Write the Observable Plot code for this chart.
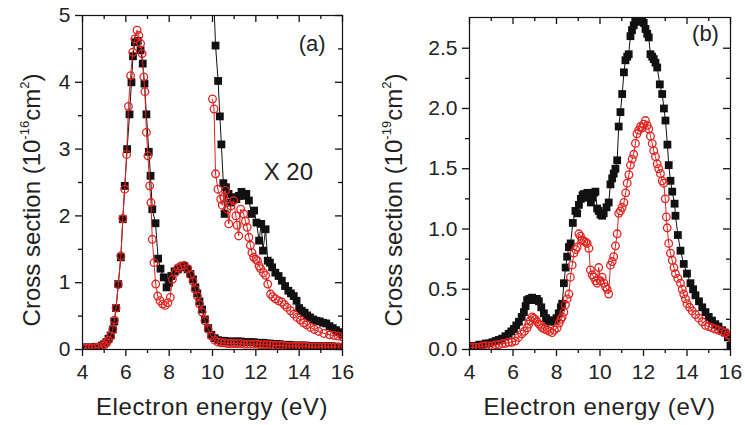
<!DOCTYPE html>
<html>
<head>
<meta charset="utf-8">
<script src="https://cdn.jsdelivr.net/npm/d3@7"></script>
<script src="https://cdn.jsdelivr.net/npm/@observablehq/plot@0.6"></script>
<style>
  body { margin: 0; background: #fff; }
  #chart { display: flex; width: 745px; height: 425px; }
  svg text { font-family: "Liberation Sans", Arial, Helvetica, sans-serif; }
</style>
</head>
<body>
<div id="chart"></div>
<script>
// Energy axis ticks (eV)
const xMajor = [4, 6, 8, 10, 12, 14, 16];
const xMinor = [5, 7, 9, 11, 13, 15];

// Panel (a): cross section in 1e-16 cm^2
const aYMajor = [0, 1, 2, 3, 4, 5];
const aYMinor = [0.5, 1.5, 2.5, 3.5, 4.5];

// [energy, cross section] — filled squares
const aBlack = [
  [4.0,0.03],[4.15,0.03],[4.3,0.03],[4.45,0.03],[4.6,0.04],[4.75,0.04],[4.9,0.06],[5.0,0.08],[5.1,0.11],[5.2,0.16],
  [5.3,0.21],[5.4,0.3],[5.47,0.42],[5.55,0.62],[5.65,0.98],[5.77,1.38],[5.86,1.95],[5.95,2.45],[6.06,3.0],[6.17,3.52],
  [6.26,4.0],[6.33,4.39],[6.42,4.6],[6.55,4.62],[6.68,4.48],[6.78,4.28],[6.86,3.98],[6.95,3.52],[7.06,2.96],[7.14,2.6],
  [7.22,2.1],[7.37,1.89],[7.49,1.36],[7.6,1.21],[7.75,1.08],[7.88,0.93],[8.0,1.0],[8.1,1.1],[8.25,1.17],[8.4,1.2],
  [8.55,1.23],[8.7,1.25],[8.85,1.2],[8.98,1.13],[9.1,1.05],[9.21,0.93],[9.3,0.84],[9.4,0.72],[9.52,0.6],[9.65,0.45],
  [9.8,0.32],[9.95,0.22],[10.1,0.17],[10.25,0.14],[10.4,0.13],[10.55,0.13],[10.7,0.12],[10.85,0.12],[11.0,0.12],[11.15,0.12],
  [11.3,0.12],[11.45,0.11],[11.6,0.11],[11.75,0.11],[11.9,0.11],[12.05,0.1],[12.2,0.1],[12.35,0.1],[12.5,0.09],[12.65,0.09],
  [12.8,0.08],[12.95,0.08],[13.1,0.08],[13.25,0.07],[13.4,0.07],[13.55,0.07],[13.7,0.06],[13.85,0.06],[14.0,0.06],[14.15,0.06],
  [14.3,0.06],[14.45,0.05],[14.6,0.05],[14.75,0.05],[14.9,0.05],[15.05,0.05],[15.2,0.05],[15.35,0.05],[15.5,0.05],[15.65,0.04],
  [15.8,0.04],[16.0,0.04]
];
// [energy, cross section] — open circles
const aRed = [
  [4.0,0.02],[4.15,0.02],[4.3,0.02],[4.45,0.02],[4.6,0.03],[4.75,0.03],[4.9,0.05],[5.0,0.07],[5.1,0.1],[5.2,0.14],
  [5.3,0.2],[5.4,0.3],[5.47,0.44],[5.55,0.62],[5.65,0.97],[5.77,1.4],[5.86,1.96],[5.95,2.4],[6.04,2.92],[6.12,3.64],
  [6.22,4.1],[6.32,4.45],[6.42,4.65],[6.52,4.78],[6.6,4.7],[6.68,4.58],[6.75,4.43],[6.83,4.08],[6.88,3.86],[6.95,3.25],
  [7.02,2.9],[7.1,2.45],[7.16,2.2],[7.22,1.65],[7.3,1.3],[7.38,0.98],[7.47,0.8],[7.58,0.73],[7.7,0.68],[7.82,0.66],
  [7.94,0.7],[8.05,0.78],[8.15,1.05],[8.28,1.15],[8.4,1.22],[8.55,1.25],[8.7,1.26],[8.85,1.21],[8.98,1.12],[9.1,1.02],
  [9.2,0.9],[9.3,0.8],[9.4,0.68],[9.52,0.56],[9.65,0.43],[9.8,0.3],[9.95,0.2],[10.1,0.14],[10.25,0.11],[10.4,0.1],
  [10.55,0.1],[10.7,0.09],[10.85,0.09],[11.0,0.09],[11.15,0.09],[11.3,0.09],[11.45,0.08],[11.6,0.08],[11.75,0.08],[11.9,0.08],
  [12.05,0.08],[12.2,0.07],[12.35,0.07],[12.5,0.07],[12.65,0.07],[12.8,0.06],[12.95,0.06],[13.1,0.06],[13.25,0.06],[13.4,0.05],
  [13.55,0.05],[13.7,0.05],[13.85,0.05],[14.0,0.05],[14.15,0.05],[14.3,0.05],[14.45,0.04],[14.6,0.04],[14.75,0.04],[14.9,0.04],
  [15.05,0.04],[15.2,0.04],[15.35,0.04],[15.5,0.04],[15.65,0.04],[15.8,0.04],[16.0,0.04]
];
// High-energy part magnified twenty times ("X 20")
const aBlackX20 = [
  [10.02,5.6],[10.14,4.55],[10.26,4.02],[10.34,3.49],[10.41,3.07],[10.5,2.49],[10.56,2.03],[10.62,2.43],[10.74,2.33],[10.86,2.2],
  [10.98,2.28],[11.1,2.25],[11.22,2.3],[11.34,2.36],[11.45,2.3],[11.56,2.33],[11.68,2.23],[11.8,2.03],[11.92,2.08],[12.03,1.9],
  [12.15,1.63],[12.25,1.88],[12.33,1.48],[12.45,1.8],[12.55,1.33],[12.65,1.3],[12.75,1.23],[12.9,1.15],[13.05,1.1],[13.2,1.03],
  [13.35,0.95],[13.5,0.88],[13.62,0.84],[13.75,0.8],[13.88,0.73],[14.0,0.62],[14.12,0.58],[14.25,0.55],[14.37,0.51],[14.5,0.48],
  [14.65,0.45],[14.8,0.43],[14.95,0.42],[15.1,0.4],[15.25,0.39],[15.4,0.35],[15.55,0.32],[15.7,0.29],[15.85,0.26],[16.0,0.22]
];
const aRedX20 = [
  [10.0,3.75],[10.07,3.6],[10.14,2.63],[10.25,2.4],[10.38,2.25],[10.45,2.16],[10.52,2.28],[10.6,2.38],[10.68,2.1],[10.75,1.88],
  [10.85,2.15],[10.98,2.23],[11.08,2.0],[11.14,1.86],[11.21,1.7],[11.3,2.1],[11.44,2.03],[11.52,1.92],[11.6,1.83],[11.68,1.68],
  [11.75,1.56],[11.82,1.45],[11.9,1.38],[12.0,1.35],[12.07,1.33],[12.15,1.25],[12.22,1.21],[12.35,1.15],[12.45,1.11],[12.55,0.98],
  [12.68,0.83],[12.78,0.79],[12.9,0.76],[13.05,0.73],[13.2,0.71],[13.32,0.67],[13.44,0.63],[13.6,0.58],[13.75,0.53],[13.9,0.48],
  [14.06,0.44],[14.2,0.4],[14.35,0.37],[14.52,0.33],[14.7,0.3],[14.9,0.27],[15.14,0.24],[15.4,0.22],[15.6,0.21],[15.8,0.2],[16.0,0.19]
];

// Panel (b): cross section in 1e-19 cm^2
const bYMajor = [0, 0.5, 1.0, 1.5, 2.0, 2.5];
const bYMinor = [0.25, 0.75, 1.25, 1.75, 2.25];

const bBlack = [
  [4.0,0.03],[4.15,0.03],[4.3,0.03],[4.45,0.04],[4.6,0.04],[4.75,0.05],[4.9,0.05],[5.05,0.06],[5.2,0.07],[5.35,0.08],
  [5.5,0.09],[5.65,0.11],[5.8,0.13],[5.92,0.15],[6.04,0.17],[6.15,0.2],[6.27,0.23],[6.4,0.27],[6.5,0.31],[6.58,0.36],
  [6.65,0.41],[6.75,0.42],[6.88,0.43],[7.0,0.41],[7.1,0.42],[7.19,0.4],[7.3,0.35],[7.42,0.3],[7.52,0.26],[7.62,0.24],
  [7.72,0.23],[7.8,0.24],[7.88,0.24],[8.0,0.26],[8.1,0.3],[8.2,0.35],[8.26,0.38],[8.34,0.55],[8.42,0.68],[8.49,0.77],
  [8.57,0.85],[8.65,0.88],[8.75,1.05],[8.87,1.15],[8.95,1.13],[9.03,1.2],[9.12,1.25],[9.2,1.28],[9.26,1.29],[9.35,1.26],
  [9.42,1.3],[9.49,1.28],[9.58,1.22],[9.65,1.26],[9.72,1.3],[9.79,1.31],[9.87,1.17],[9.94,1.15],[10.02,1.12],[10.1,1.11],
  [10.17,1.13],[10.3,1.18],[10.4,1.22],[10.48,1.37],[10.56,1.42],[10.63,1.46],[10.71,1.5],[10.79,1.57],[10.86,1.85],[10.94,1.97],
  [11.02,2.12],[11.1,2.3],[11.17,2.4],[11.25,2.43],[11.32,2.45],[11.4,2.6],[11.47,2.65],[11.55,2.69],[11.62,2.72],[11.7,2.73],
  [11.78,2.72],[11.86,2.74],[11.94,2.73],[12.01,2.71],[12.09,2.66],[12.17,2.62],[12.24,2.59],[12.32,2.45],[12.4,2.43],[12.47,2.41],
  [12.55,2.38],[12.63,2.34],[12.75,2.2],[12.86,2.12],[12.94,2.0],[13.01,1.9],[13.1,1.7],[13.16,1.53],[13.24,1.4],[13.32,1.31],
  [13.43,1.21],[13.47,1.11],[13.58,0.95],[13.7,0.82],[13.85,0.71],[14.0,0.63],[14.16,0.55],[14.28,0.5],[14.39,0.45],[14.55,0.4],
  [14.7,0.35],[14.85,0.31],[15.0,0.27],[15.15,0.24],[15.3,0.21],[15.45,0.19],[15.62,0.16],[15.75,0.14],[15.88,0.1],[16.0,0.03]
];
const bRed = [
  [4.0,0.02],[4.15,0.02],[4.3,0.02],[4.45,0.02],[4.6,0.03],[4.75,0.03],[4.9,0.03],[5.05,0.03],[5.2,0.04],[5.35,0.04],
  [5.5,0.05],[5.65,0.05],[5.8,0.06],[5.95,0.06],[6.11,0.07],[6.25,0.1],[6.4,0.13],[6.52,0.15],[6.65,0.18],[6.72,0.21],
  [6.8,0.24],[6.88,0.27],[6.95,0.26],[7.03,0.25],[7.11,0.23],[7.2,0.21],[7.27,0.2],[7.34,0.18],[7.45,0.17],[7.57,0.16],
  [7.68,0.15],[7.8,0.14],[7.9,0.16],[8.03,0.18],[8.12,0.22],[8.2,0.25],[8.26,0.27],[8.34,0.31],[8.41,0.37],[8.49,0.42],
  [8.57,0.46],[8.64,0.6],[8.72,0.7],[8.8,0.8],[8.88,0.83],[8.95,0.85],[9.03,0.96],[9.1,0.94],[9.18,0.91],[9.26,0.9],
  [9.34,0.89],[9.41,0.88],[9.49,0.84],[9.56,0.66],[9.64,0.62],[9.72,0.6],[9.8,0.57],[9.87,0.55],[9.94,0.68],[10.02,0.57],
  [10.1,0.6],[10.18,0.55],[10.25,0.52],[10.33,0.5],[10.4,0.46],[10.48,0.7],[10.56,0.73],[10.63,0.77],[10.71,0.86],[10.79,0.96],
  [10.86,1.13],[10.94,1.15],[11.02,1.18],[11.1,1.22],[11.18,1.3],[11.25,1.38],[11.33,1.45],[11.4,1.53],[11.48,1.58],[11.55,1.62],
  [11.63,1.71],[11.7,1.79],[11.78,1.82],[11.86,1.85],[11.94,1.84],[12.01,1.87],[12.09,1.9],[12.17,1.86],[12.24,1.83],[12.32,1.77],
  [12.4,1.71],[12.47,1.65],[12.55,1.6],[12.63,1.54],[12.7,1.5],[12.78,1.46],[12.86,1.4],[12.93,1.38],[13.0,1.25],[13.05,1.1],
  [13.09,1.01],[13.16,0.88],[13.24,0.8],[13.32,0.74],[13.4,0.68],[13.47,0.63],[13.58,0.59],[13.7,0.55],[13.78,0.5],[13.85,0.46],
  [13.93,0.42],[14.0,0.38],[14.12,0.35],[14.24,0.32],[14.39,0.29],[14.54,0.26],[14.7,0.23],[14.85,0.2],[15.0,0.19],[15.15,0.18],
  [15.3,0.17],[15.45,0.16],[15.6,0.15],[15.77,0.14],[15.9,0.12],[16.0,0.11]
];

const xTitle = "Electron energy (eV)";
const INK = "#222";
const RED = "#e3221e";
const HEIGHT = 425;

function squares(data) {
  return [
    Plot.line(data, {x: d => d[0], y: d => d[1], stroke: "#111", strokeWidth: 1, clip: true}),
    Plot.dot(data, {x: d => d[0], y: d => d[1], symbol: "square", r: 4.4, fill: "#111", stroke: "none", clip: true})
  ];
}
function circles(data) {
  return [
    Plot.line(data, {x: d => d[0], y: d => d[1], stroke: RED, strokeWidth: 1, clip: true}),
    Plot.dot(data, {x: d => d[0], y: d => d[1], r: 3.8, fill: "none", stroke: RED, strokeWidth: 1.3, clip: true})
  ];
}

// Tick marks as short rules: outward on bottom/left, inward along top/right
function tickRules(plotW, plotH, yMajor, yMinor) {
  const s = {stroke: "#111", strokeWidth: 1.3};
  const out = [];
  for (const [xs, len] of [[xMajor, 7], [xMinor, 4]]) {
    out.push(Plot.ruleX(xs, {...s, insetTop: plotH, insetBottom: -len}));
    out.push(Plot.ruleX(xs, {...s, insetBottom: plotH - len}));
  }
  for (const [ys, len] of [[yMajor, 7], [yMinor, 4]]) {
    out.push(Plot.ruleY(ys, {...s, insetRight: plotW, insetLeft: -len}));
    out.push(Plot.ruleY(ys, {...s, insetLeft: plotW - len}));
  }
  return out;
}

function panel({width, margin, yDomain, yMajor, yMinor, yFormat, layers, notes, yTitle}) {
  const [mt, mr, mb, ml] = margin;
  const plotW = width - ml - mr, plotH = HEIGHT - mt - mb;
  const svg = Plot.plot({
    width, height: HEIGHT,
    marginLeft: ml, marginRight: mr, marginTop: mt, marginBottom: mb,
    style: {background: "white", color: INK, overflow: "visible", fontFamily: '"Liberation Sans", Arial, sans-serif'},
    x: {domain: [4, 16]},
    y: {domain: yDomain},
    marks: [
      ...layers,
      Plot.frame({stroke: "#111", strokeWidth: 1.2}),
      ...tickRules(plotW, plotH, yMajor, yMinor),
      Plot.axisX({ticks: xMajor, tickSize: 0, tickPadding: 15, fontSize: 21, label: null}),
      Plot.axisY({ticks: yMajor, tickSize: 0, tickPadding: 12, fontSize: 21, tickFormat: yFormat, label: null}),
      Plot.text(notes, {x: d => d.x, y: d => d.y, text: d => d.text, fontSize: d => d.size, fill: INK, textAnchor: "middle"})
    ]
  });
  const s = d3.select(svg);
  s.append("text")
    .attr("x", ml + plotW / 2).attr("y", 415)
    .attr("text-anchor", "middle").attr("font-size", 24).attr("letter-spacing", "0.6px")
    .attr("fill", INK).text(xTitle);
  const t = s.append("text")
    .attr("transform", `translate(${yTitle.x},200) rotate(-90)`)
    .attr("text-anchor", "middle").attr("font-size", 24).attr("fill", INK);
  t.append("tspan").text("Cross section (10");
  t.append("tspan").attr("font-size", 13).attr("dy", -11).text(yTitle.exp);
  t.append("tspan").attr("dy", 11).text("cm");
  t.append("tspan").attr("font-size", 13).attr("dy", -11).text("2");
  t.append("tspan").attr("dy", 11).text(")");
  return svg;
}

const chart = document.getElementById("chart");

chart.append(panel({
  width: 372,
  margin: [15, 30, 76, 82],
  yDomain: [0, 5],
  yMajor: aYMajor, yMinor: aYMinor,
  yFormat: d3.format("d"),
  layers: [...squares(aBlack), ...squares(aBlackX20), ...circles(aRed), ...circles(aRedX20)],
  notes: [{x: 14.6, y: 4.58, text: "(a)", size: 22}, {x: 13.5, y: 2.65, text: "X 20", size: 24}],
  yTitle: {x: 40, exp: "-16"}
}));

chart.append(panel({
  width: 373,
  margin: [17, 15, 76, 97],
  yDomain: [0, 2.755],
  yMajor: bYMajor, yMinor: bYMinor,
  yFormat: d3.format(".1f"),
  layers: [...squares(bBlack), ...circles(bRed)],
  notes: [{x: 14.85, y: 2.62, text: "(b)", size: 22}],
  yTitle: {x: 30, exp: "-19"}
}));
</script>
</body>
</html>
